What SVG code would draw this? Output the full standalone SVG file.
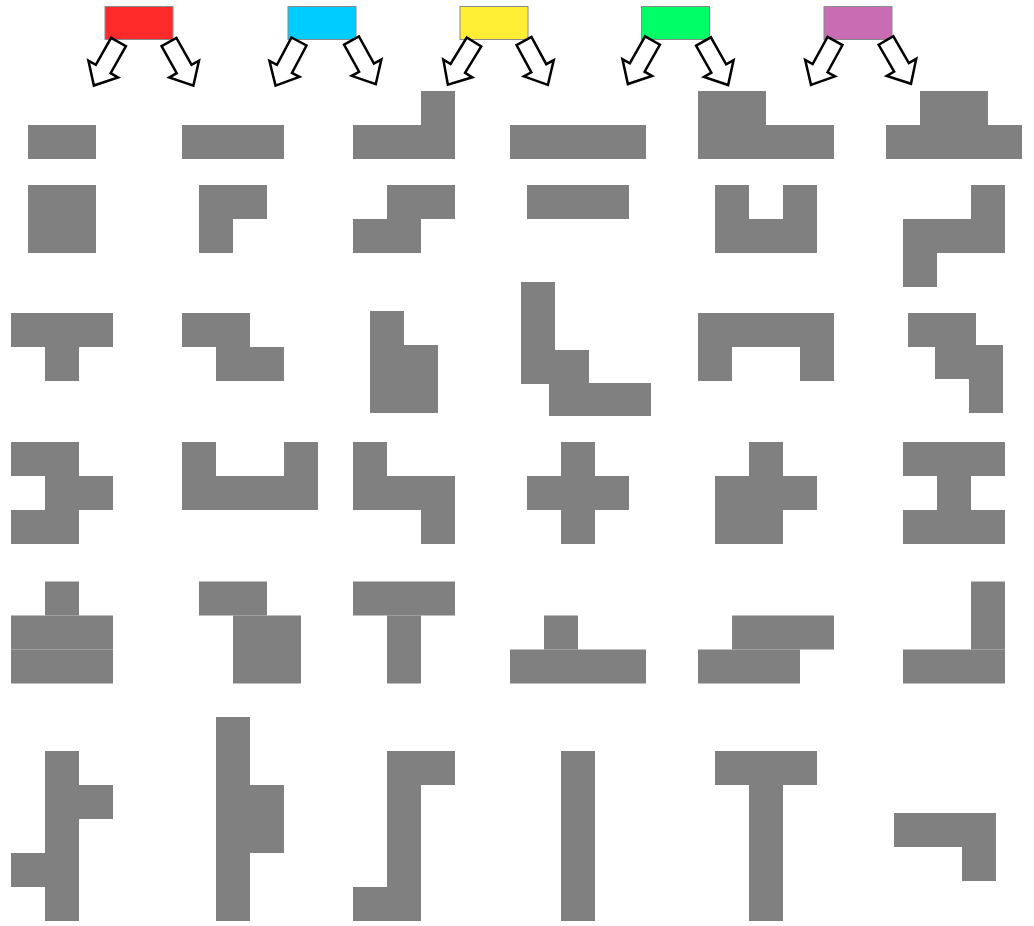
<svg xmlns="http://www.w3.org/2000/svg" width="1034" height="926" viewBox="0 0 1034 926">
<defs>
<style>
.src{stroke:#8a8a8a;stroke-width:1}
.p rect{fill:#808080}
.arr{fill:#ffffff;stroke:#000000;stroke-width:2.5;stroke-linejoin:miter}
</style>
<polygon id="arrow" points="-8.5,0 8.5,0 8.5,31 17,31 0,50 -17,31 -8.5,31"/>
</defs>
<rect width="1034" height="926" fill="#ffffff"/>
<g id="sources">
<rect id="src-red" class="src" x="105" y="6.5" width="68" height="33" fill="#ff2a2a"/>
<rect id="src-cyan" class="src" x="288" y="6.5" width="68" height="33" fill="#00ccff"/>
<rect id="src-yellow" class="src" x="460" y="6.5" width="68" height="33" fill="#ffee33"/>
<rect id="src-green" class="src" x="641.5" y="6.5" width="68" height="33" fill="#00ff66"/>
<rect id="src-purple" class="src" x="824" y="6.5" width="68" height="33" fill="#c86cb4"/>
</g>
<g id="connectors" class="arr">
<use href="#arrow" transform="translate(118.5,42) rotate(29.5)"/>
<use href="#arrow" transform="translate(169,42) rotate(-29.2)"/>
<use href="#arrow" transform="translate(299,41.5) rotate(28)"/>
<use href="#arrow" transform="translate(351.5,40.5) rotate(-29)"/>
<use href="#arrow" transform="translate(474,42) rotate(31.5)"/>
<use href="#arrow" transform="translate(524,41) rotate(-28.5)"/>
<use href="#arrow" transform="translate(652.5,40.5) rotate(29.5)"/>
<use href="#arrow" transform="translate(703.5,41.5) rotate(-29.5)"/>
<use href="#arrow" transform="translate(835,41) rotate(28.7)"/>
<use href="#arrow" transform="translate(886,40.5) rotate(-30)"/>
</g>
<g id="shapes">
<!-- row 1 -->
<g id="r1c1" class="p"><rect x="28" y="125" width="68" height="34"/></g>
<g id="r1c2" class="p"><rect x="182" y="125" width="102" height="34"/></g>
<g id="r1c3" class="p"><rect x="421" y="91" width="34" height="34"/><rect x="353" y="125" width="102" height="34"/></g>
<g id="r1c4" class="p"><rect x="510" y="125" width="136" height="34"/></g>
<g id="r1c5" class="p"><rect x="698" y="91" width="68" height="34"/><rect x="698" y="125" width="136" height="34"/></g>
<g id="r1c6" class="p"><rect x="920" y="91" width="68" height="34"/><rect x="886" y="125" width="136" height="34"/></g>
<!-- row 2 -->
<g id="r2c1" class="p"><rect x="28" y="185" width="68" height="68"/></g>
<g id="r2c2" class="p"><rect x="199" y="185" width="68" height="34"/><rect x="199" y="219" width="34" height="34"/></g>
<g id="r2c3" class="p"><rect x="387" y="185" width="68" height="34"/><rect x="353" y="219" width="68" height="34"/></g>
<g id="r2c4" class="p"><rect x="527" y="185" width="102" height="34"/></g>
<g id="r2c5" class="p"><rect x="715" y="185" width="34" height="34"/><rect x="783" y="185" width="34" height="34"/><rect x="715" y="219" width="102" height="34"/></g>
<g id="r2c6" class="p"><rect x="971" y="185" width="34" height="34"/><rect x="903" y="219" width="102" height="34"/><rect x="903" y="253" width="34" height="34"/></g>
<!-- row 3 -->
<g id="r3c1" class="p"><rect x="11" y="313" width="102" height="34"/><rect x="45" y="347" width="34" height="34"/></g>
<g id="r3c2" class="p"><rect x="182" y="313" width="68" height="34"/><rect x="216" y="347" width="68" height="34"/></g>
<g id="r3c3" class="p"><rect x="370" y="311" width="34" height="102"/><rect x="404" y="345" width="34" height="68"/></g>
<g id="r3c4" class="p"><rect x="521" y="282" width="34" height="68"/><rect x="521" y="350" width="68" height="34"/><rect x="549" y="383" width="102" height="33"/></g>
<g id="r3c5" class="p"><rect x="698" y="313" width="136" height="34"/><rect x="698" y="347" width="34" height="34"/><rect x="800" y="347" width="34" height="34"/></g>
<g id="r3c6" class="p"><rect x="908" y="313" width="68" height="34"/><rect x="935" y="345" width="68" height="34"/><rect x="969" y="379" width="34" height="34"/></g>
<!-- row 4 -->
<g id="r4c1" class="p"><rect x="11" y="442" width="68" height="34"/><rect x="45" y="476" width="68" height="34"/><rect x="11" y="510" width="68" height="34"/></g>
<g id="r4c2" class="p"><rect x="182" y="442" width="34" height="34"/><rect x="284" y="442" width="34" height="34"/><rect x="182" y="476" width="136" height="34"/></g>
<g id="r4c3" class="p"><rect x="353" y="442" width="34" height="34"/><rect x="353" y="476" width="102" height="34"/><rect x="421" y="510" width="34" height="34"/></g>
<g id="r4c4" class="p"><rect x="561" y="442" width="34" height="102"/><rect x="527" y="476" width="102" height="34"/></g>
<g id="r4c5" class="p"><rect x="749" y="442" width="34" height="34"/><rect x="715" y="476" width="102" height="34"/><rect x="715" y="510" width="68" height="34"/></g>
<g id="r4c6" class="p"><rect x="903" y="442" width="102" height="34"/><rect x="937" y="476" width="34" height="34"/><rect x="903" y="510" width="102" height="34"/></g>
<!-- row 5 -->
<g id="r5c1" class="p"><rect x="45" y="581.5" width="34" height="34"/><rect x="11" y="615.5" width="102" height="34"/><rect x="11" y="649.5" width="102" height="34"/></g>
<g id="r5c2" class="p"><rect x="199" y="581.5" width="34" height="34"/><rect x="233" y="581.5" width="34" height="34"/><rect x="233" y="615.5" width="68" height="68"/></g>
<g id="r5c3" class="p"><rect x="353" y="581.5" width="102" height="34"/><rect x="387" y="615.5" width="34" height="68"/></g>
<g id="r5c4" class="p"><rect x="544" y="615.5" width="34" height="34"/><rect x="510" y="649.5" width="136" height="34"/></g>
<g id="r5c5" class="p"><rect x="732" y="615.5" width="102" height="34"/><rect x="698" y="649.5" width="102" height="34"/></g>
<g id="r5c6" class="p"><rect x="971" y="581.5" width="34" height="68"/><rect x="903" y="649.5" width="102" height="34"/></g>
<!-- row 6 -->
<g id="r6c1" class="p"><rect x="45" y="751" width="34" height="170"/><rect x="79" y="785" width="34" height="34"/><rect x="11" y="853" width="34" height="34"/></g>
<g id="r6c2" class="p"><rect x="216" y="717" width="34" height="204"/><rect x="250" y="785" width="34" height="68"/></g>
<g id="r6c3" class="p"><rect x="387" y="751" width="34" height="170"/><rect x="421" y="751" width="34" height="34"/><rect x="353" y="887" width="34" height="34"/></g>
<g id="r6c4" class="p"><rect x="561" y="751" width="34" height="170"/></g>
<g id="r6c5" class="p"><rect x="715" y="751" width="102" height="34"/><rect x="749" y="785" width="34" height="136"/></g>
<g id="r6c6" class="p"><rect x="894" y="813" width="102" height="34"/><rect x="962" y="847" width="34" height="34"/></g>
</g>
</svg>
